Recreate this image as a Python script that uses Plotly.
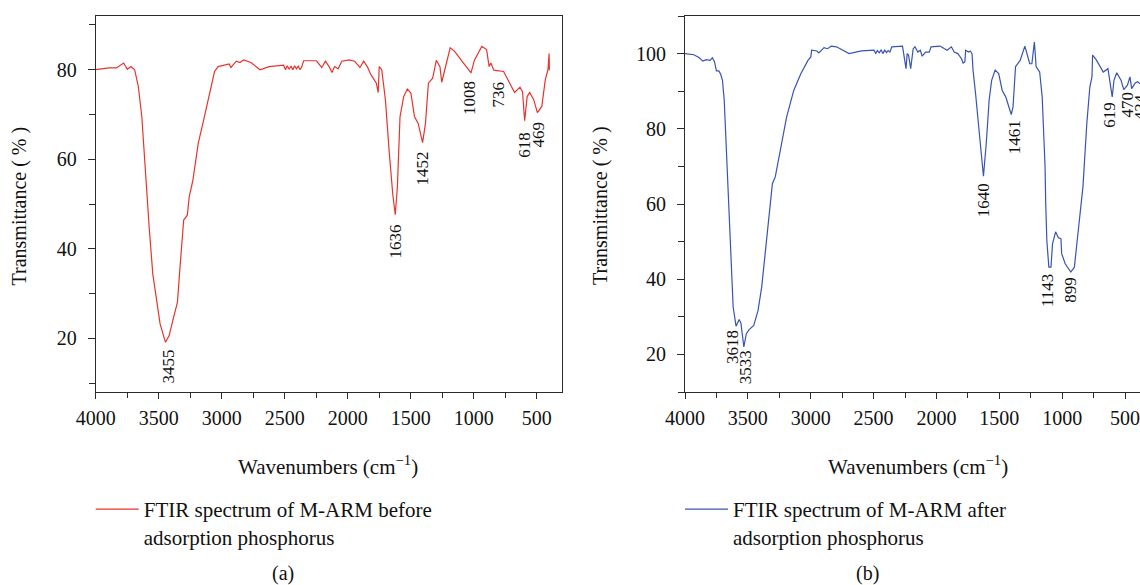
import plotly.graph_objects as go

# ---------------- data ----------------
wn_before = [4000, 3893, 3836, 3778, 3749, 3720, 3691, 3662, 3634, 3605, 3576, 3547, 3489, 3446,
             3417, 3388, 3351, 3331, 3302, 3273, 3258, 3229, 3186, 3143, 3100, 3057, 3028, 2985,
             2941, 2927, 2884, 2855, 2826, 2768, 2696, 2624, 2508, 2494, 2480, 2465, 2450, 2436,
             2422, 2407, 2393, 2378, 2364, 2350, 2249, 2206, 2177, 2148, 2125, 2105, 2076, 2047,
             1990, 1946, 1903, 1874, 1845, 1816, 1773, 1758, 1750, 1730, 1701, 1672, 1643, 1623,
             1606, 1585, 1556, 1527, 1499, 1470, 1441, 1406, 1383, 1360, 1326, 1297, 1268, 1254,
             1225, 1187, 1152, 1109, 1066, 1022, 994, 936, 898, 878, 864, 841, 763, 734, 676, 633,
             613, 596, 576, 556, 524, 495, 460, 432, 411, 402, 400]
t_before = [80.0, 80.4, 80.4, 81.5, 80.1, 80.7, 80.0, 76.3, 69.5, 56.8, 44.9, 34.4, 23.2, 19.1,
            20.6, 24.0, 28.1, 35.9, 46.4, 47.5, 51.6, 55.3, 63.6, 68.8, 74.0, 79.6, 80.7, 81.0,
            81.3, 80.5, 81.9, 81.6, 82.2, 81.6, 80.0, 80.7, 81.0, 80.0, 80.9, 80.1, 80.8, 80.0,
            80.9, 80.2, 80.8, 80.0, 80.7, 82.0, 82.0, 80.5, 81.9, 80.7, 79.4, 80.7, 80.2, 81.9,
            82.2, 81.9, 80.5, 81.9, 80.7, 78.9, 77.0, 74.9, 80.7, 80.0, 73.3, 62.1, 52.3, 47.6,
            53.8, 69.5, 74.0, 75.7, 74.8, 69.5, 68.0, 63.7, 68.0, 77.0, 78.1, 82.1, 80.7, 77.2,
            80.7, 84.9, 84.1, 82.6, 81.1, 79.3, 82.2, 85.2, 84.5, 80.7, 81.5, 79.9, 79.6, 78.1,
            74.9, 76.1, 75.1, 68.6, 74.0, 74.9, 73.3, 70.4, 71.8, 77.8, 80.0, 83.6, 79.9]

wn_after = [4000, 3929, 3887, 3858, 3830, 3801, 3782, 3765, 3750, 3731, 3716, 3702, 3688, 3674,
            3660, 3645, 3631, 3617, 3594, 3569, 3555, 3532, 3512, 3490, 3453, 3419, 3390, 3362,
            3334, 3305, 3282, 3248, 3192, 3135, 3078, 3022, 2999, 2993, 2951, 2936, 2894, 2866,
            2837, 2795, 2695, 2596, 2497, 2483, 2470, 2455, 2440, 2426, 2412, 2398, 2384, 2370,
            2355, 2270, 2256, 2242, 2233, 2222, 2205, 2185, 2171, 2148, 2128, 2114, 2086, 2057,
            2043, 1972, 1915, 1881, 1859, 1830, 1802, 1788, 1774, 1768, 1745, 1731, 1717, 1709,
            1689, 1666, 1646, 1626, 1604, 1581, 1561, 1533, 1505, 1477, 1449, 1405, 1391, 1371,
            1334, 1297, 1258, 1241, 1221, 1207, 1179, 1159, 1142, 1136, 1131, 1122, 1106, 1089,
            1077, 1052, 1030, 1010, 1004, 976, 931, 903, 869, 835, 804, 780, 763, 758, 730, 701,
            673, 636, 616, 602, 588, 566, 532, 510, 481, 461, 447, 419, 400, 381]
t_after = [100.0, 99.7, 98.9, 98.0, 98.4, 98.2, 98.9, 97.8, 95.4, 95.4, 94.5, 92.9, 87.6, 76.9,
           65.4, 53.9, 41.5, 32.6, 27.5, 29.3, 28.3, 22.0, 25.5, 26.6, 27.7, 31.7, 37.9, 46.8,
           57.4, 65.4, 67.2, 73.4, 83.1, 90.2, 94.7, 98.2, 99.1, 100.9, 100.7, 100.2, 101.6, 101.3,
           102.0, 101.8, 100.0, 100.7, 100.9, 100.1, 100.8, 100.2, 101.0, 100.0, 100.9, 100.3,
           100.8, 100.4, 101.8, 102.0, 98.4, 96.0, 100.0, 99.6, 96.0, 101.3, 101.8, 100.4, 100.9,
           99.3, 100.4, 100.4, 101.8, 102.0, 100.9, 101.8, 100.4, 100.0, 98.7, 97.5, 97.8, 100.9,
           100.4, 100.7, 100.0, 95.6, 89.4, 80.5, 74.3, 67.4, 76.1, 87.6, 92.9, 95.6, 94.7, 90.2,
           88.5, 83.8, 85.8, 96.5, 98.2, 102.0, 97.3, 97.3, 103.1, 96.5, 95.1, 88.5, 74.3, 69.8,
           60.1, 50.3, 43.2, 43.2, 49.4, 52.6, 51.0, 50.8, 46.8, 44.1, 41.9, 43.2, 53.9, 64.5,
           81.4, 91.1, 93.8, 99.6, 98.4, 96.9, 95.1, 96.0, 92.0, 88.5, 92.9, 94.9, 92.9, 90.4,
           91.6, 93.8, 90.7, 92.2, 92.5, 92.0]

# peak labels: text, wavenumber, transmittance (label centre)
peaks_before_txt = ["3455", "1636", "1452", "1008", "736", "618", "469"]
peaks_before_wn = [3426, 1623, 1403, 1028, 806, 599, 483]
peaks_before_t = [13.7, 41.7, 57.9, 73.7, 74.5, 63.3, 65.5]

peaks_after_txt = ["3618", "3533", "1640", "1461", "1143", "899", "619", "470", "434"]
peaks_after_wn = [3617, 3518, 1626, 1377, 1116, 929, 625, 483, 395]
peaks_after_t = [22.0, 16.5, 61.1, 77.7, 37.0, 37.2, 83.8, 86.5, 85.8]

x_ticks = [4000, 3500, 3000, 2500, 2000, 1500, 1000, 500]
name_before = "FTIR spectrum of M-ARM before<br>adsorption phosphorus"
name_after = "FTIR spectrum of M-ARM after<br>adsorption phosphorus"

RED = "#e8332c"
BLUE = "#3854b2"
FONT = "Liberation Serif"
AX = "#2b2b2b"
TXT = "#111111"

W, H = 1140, 585
def px(v):
    return v / W
def py(v):
    return 1 - v / H

fig = go.Figure()
fig.add_trace(go.Scatter(x=wn_before, y=t_before, mode="lines", name=name_before,
                         line=dict(color=RED, width=1.2), xaxis="x", yaxis="y", legend="legend"))
fig.add_trace(go.Scatter(x=wn_after, y=t_after, mode="lines", name=name_after,
                         line=dict(color=BLUE, width=1.2), xaxis="x2", yaxis="y2", legend="legend2"))

common_x = dict(tickvals=x_ticks, ticks="outside", ticklen=6, tickwidth=1, tickcolor=AX,
                showline=True, linecolor=AX, linewidth=1, showgrid=False, zeroline=False,
                automargin=False, ticklabeloverflow="allow",
                minor=dict(dtick=250, tick0=0, ticks="outside", ticklen=5, tickcolor=AX),
                tickfont=dict(family=FONT, size=20, color=TXT), ticklabelstandoff=2)
common_y = dict(dtick=20, tick0=0, ticks="outside", ticklen=7, tickwidth=1, tickcolor=AX,
                showline=True, linecolor=AX, linewidth=1, showgrid=False, zeroline=False,
                automargin=False,
                minor=dict(dtick=10, tick0=0, ticks="outside", ticklen=6, tickcolor=AX),
                tickfont=dict(family=FONT, size=20, color=TXT), ticklabelstandoff=7)

leg_font = dict(family=FONT, size=21, color=TXT)
yd = [py(392), py(16)]
fig.update_layout(
    width=W, height=H, margin=dict(l=0, r=0, t=0, b=0, autoexpand=False),
    paper_bgcolor="white", plot_bgcolor="white",
    xaxis=dict(domain=[px(95.7), px(561.7)], range=[4000, 302], mirror=True, anchor="y", **common_x),
    yaxis=dict(domain=yd, range=[8, 92], mirror=True, anchor="x", **common_y),
    xaxis2=dict(domain=[px(685), 1.0], range=[4000, 381], mirror=True, anchor="y2", **common_x),
    yaxis2=dict(domain=yd, range=[10, 110], mirror=False, anchor="x2", **common_y),
    legend=dict(x=px(90.7), y=py(489), xanchor="left", yanchor="top", valign="top",
                itemwidth=43, font=leg_font, bgcolor="rgba(0,0,0,0)"),
    legend2=dict(x=px(680), y=py(489), xanchor="left", yanchor="top", valign="top",
                 itemwidth=43, font=leg_font, bgcolor="rgba(0,0,0,0)"),
    showlegend=True,
)

anns = []
for t, x, y in zip(peaks_before_txt, peaks_before_wn, peaks_before_t):
    anns.append(dict(text=t, x=x, y=y, xref="x", yref="y", showarrow=False, textangle=-90,
                     xanchor="center", yanchor="middle",
                     font=dict(family=FONT, size=17, color=TXT)))
for t, x, y in zip(peaks_after_txt, peaks_after_wn, peaks_after_t):
    anns.append(dict(text=t, x=x, y=y, xref="x2", yref="y2", showarrow=False, textangle=-90,
                     xanchor="center", yanchor="middle", xshift=3 if t == "434" else 0,
                     font=dict(family=FONT, size=17, color=TXT)))

for cx in (18.5, 600):
    anns.append(dict(text="Transmittance ( % )", x=px(cx), y=py(206), xref="paper", yref="paper",
                     showarrow=False, textangle=-90, xanchor="center", yanchor="middle",
                     font=dict(family=FONT, size=20, color=TXT)))
for cx in (328, 918):
    anns.append(dict(text="Wavenumbers (cm<sup>−1</sup>)", x=px(cx), y=py(466), xref="paper",
                     yref="paper", showarrow=False, xanchor="center", yanchor="middle",
                     font=dict(family=FONT, size=21, color=TXT)))
for t, cx in (("(a)", 283), ("(b)", 867)):
    anns.append(dict(text=t, x=px(cx), y=py(573), xref="paper", yref="paper",
                     showarrow=False, xanchor="center", yanchor="middle",
                     font=dict(family=FONT, size=20, color=TXT)))
fig.update_layout(annotations=anns)

fig.write_html("out.html", config={"displayModeBar": False},
               post_script="document.body.style.margin='0';document.body.style.padding='0';")
